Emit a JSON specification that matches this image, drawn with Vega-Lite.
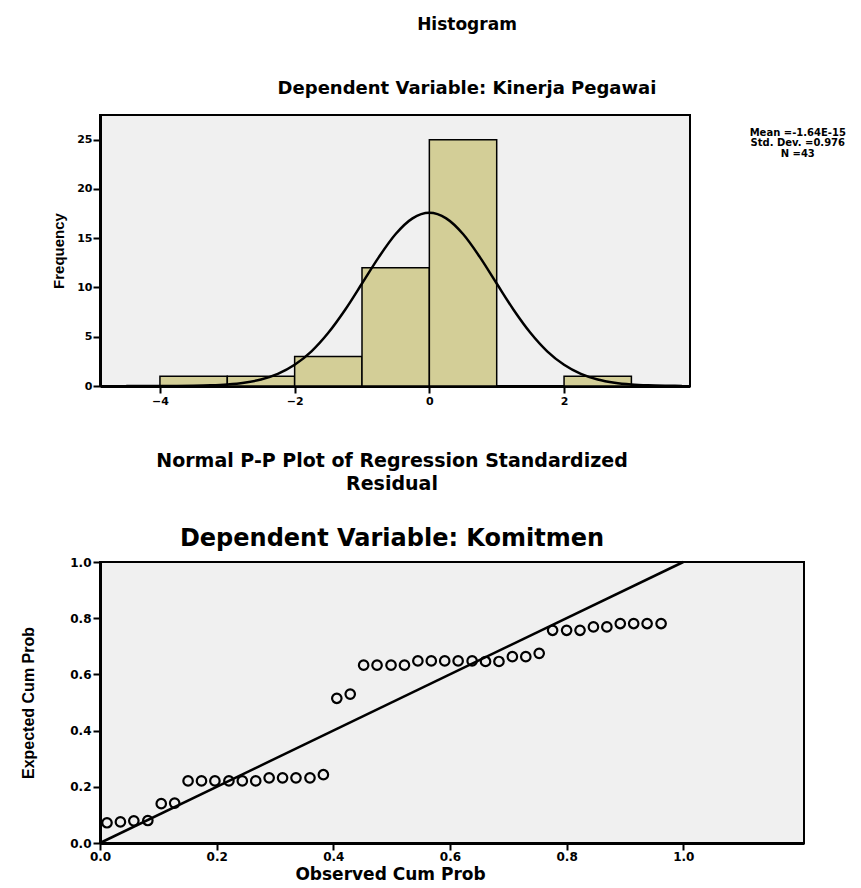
{
  "$schema": "https://vega.github.io/schema/vega-lite/v6.json",
  "background": "white",
  "padding": {"left": 19, "top": 15, "right": 0, "bottom": 0},
  "spacing": 44,
  "datasets": {
    "bins": [
      {"bin_start": -4, "bin_end": -3, "count": 1},
      {"bin_start": -3, "bin_end": -2, "count": 1},
      {"bin_start": -2, "bin_end": -1, "count": 3},
      {"bin_start": -1, "bin_end": 0, "count": 12},
      {"bin_start": 0, "bin_end": 1, "count": 25},
      {"bin_start": 2, "bin_end": 3, "count": 1}
    ],
    "curve": [
      {"x": -4.5, "density": 0.0004},
      {"x": -4.25, "density": 0.0013},
      {"x": -4.0, "density": 0.004},
      {"x": -3.75, "density": 0.011},
      {"x": -3.5, "density": 0.028},
      {"x": -3.25, "density": 0.069},
      {"x": -3.0, "density": 0.156},
      {"x": -2.75, "density": 0.332},
      {"x": -2.5, "density": 0.661},
      {"x": -2.25, "density": 1.233},
      {"x": -2.0, "density": 2.154},
      {"x": -1.75, "density": 3.52},
      {"x": -1.5, "density": 5.40},
      {"x": -1.25, "density": 7.74},
      {"x": -1.0, "density": 10.40},
      {"x": -0.75, "density": 13.08},
      {"x": -0.5, "density": 15.42},
      {"x": -0.25, "density": 17.01},
      {"x": 0.0, "density": 17.58},
      {"x": 0.25, "density": 17.01},
      {"x": 0.5, "density": 15.42},
      {"x": 0.75, "density": 13.08},
      {"x": 1.0, "density": 10.40},
      {"x": 1.25, "density": 7.74},
      {"x": 1.5, "density": 5.40},
      {"x": 1.75, "density": 3.52},
      {"x": 2.0, "density": 2.154},
      {"x": 2.25, "density": 1.233},
      {"x": 2.5, "density": 0.661},
      {"x": 2.75, "density": 0.332},
      {"x": 3.0, "density": 0.156},
      {"x": 3.25, "density": 0.069},
      {"x": 3.5, "density": 0.028},
      {"x": 3.75, "density": 0.011}
    ],
    "stats": [
      {"lines": ["Mean =-1.64E-15", "Std. Dev. =0.976", "N =43"]}
    ],
    "diag": [
      {"x": 0, "y": 0},
      {"x": 1, "y": 1}
    ],
    "pp": [
      {"observed": 0.012, "expected": 0.072},
      {"observed": 0.035, "expected": 0.075},
      {"observed": 0.058, "expected": 0.079},
      {"observed": 0.082, "expected": 0.080},
      {"observed": 0.105, "expected": 0.140},
      {"observed": 0.128, "expected": 0.142},
      {"observed": 0.151, "expected": 0.221},
      {"observed": 0.174, "expected": 0.221},
      {"observed": 0.197, "expected": 0.221},
      {"observed": 0.221, "expected": 0.221},
      {"observed": 0.244, "expected": 0.221},
      {"observed": 0.267, "expected": 0.221},
      {"observed": 0.290, "expected": 0.232},
      {"observed": 0.313, "expected": 0.232},
      {"observed": 0.336, "expected": 0.232},
      {"observed": 0.360, "expected": 0.232},
      {"observed": 0.383, "expected": 0.243},
      {"observed": 0.406, "expected": 0.515},
      {"observed": 0.429, "expected": 0.530},
      {"observed": 0.452, "expected": 0.633},
      {"observed": 0.475, "expected": 0.633},
      {"observed": 0.499, "expected": 0.633},
      {"observed": 0.522, "expected": 0.633},
      {"observed": 0.545, "expected": 0.648},
      {"observed": 0.568, "expected": 0.648},
      {"observed": 0.591, "expected": 0.648},
      {"observed": 0.614, "expected": 0.648},
      {"observed": 0.638, "expected": 0.648},
      {"observed": 0.661, "expected": 0.646},
      {"observed": 0.684, "expected": 0.646},
      {"observed": 0.707, "expected": 0.663},
      {"observed": 0.730, "expected": 0.663},
      {"observed": 0.753, "expected": 0.675},
      {"observed": 0.776, "expected": 0.757},
      {"observed": 0.800, "expected": 0.757},
      {"observed": 0.823, "expected": 0.757},
      {"observed": 0.846, "expected": 0.769},
      {"observed": 0.869, "expected": 0.769},
      {"observed": 0.892, "expected": 0.781},
      {"observed": 0.915, "expected": 0.781},
      {"observed": 0.938, "expected": 0.781},
      {"observed": 0.962, "expected": 0.781}
    ]
  },
  "config": {
    "view": {"fill": "#f0f0f0", "stroke": "black", "strokeWidth": 2},
    "axis": {
      "grid": false,
      "domainColor": "black",
      "domainWidth": 3,
      "tickColor": "black",
      "tickWidth": 2,
      "tickSize": 7,
      "labelFlush": false,
      "labelFont": "DejaVu Sans",
      "labelFontWeight": "bold",
      "labelColor": "black",
      "titleColor": "black",
      "titleFontWeight": "bold"
    },
    "title": {
      "color": "black",
      "subtitleColor": "black",
      "font": "DejaVu Sans",
      "subtitleFont": "DejaVu Sans",
      "fontWeight": "bold",
      "subtitleFontWeight": "bold"
    }
  },
  "vconcat": [
    {
      "width": 590,
      "height": 271,
      "title": {
        "text": "Histogram",
        "subtitle": "Dependent Variable: Kinerja Pegawai",
        "fontSize": 17,
        "subtitleFontSize": 18,
        "subtitlePadding": 46,
        "offset": 16,
        "dx": 72
      },
      "layer": [
        {
          "data": {"name": "bins"},
          "mark": {"type": "bar", "fill": "#d3ce97", "stroke": "black", "strokeWidth": 1.5},
          "encoding": {
            "x": {
              "field": "bin_start",
              "type": "quantitative",
              "scale": {"domain": [-4.89, 3.87], "nice": false, "zero": false},
              "axis": {"values": [-4, -2, 0, 2], "format": "d", "title": null, "labelFontSize": 11, "labelPadding": 2}
            },
            "x2": {"field": "bin_end"},
            "y": {
              "field": "count",
              "type": "quantitative",
              "scale": {"domain": [0, 27.5], "nice": false},
              "axis": {
                "values": [0, 5, 10, 15, 20, 25],
                "title": "Frequency",
                "titleFont": "Liberation Sans",
                "titleFontSize": 15,
                "titlePadding": 10,
                "labelFontSize": 11,
                "labelPadding": 1
              }
            },
            "y2": {"datum": 0}
          }
        },
        {
          "data": {"name": "curve"},
          "mark": {"type": "line", "color": "black", "strokeWidth": 2.5, "interpolate": "monotone", "clip": true},
          "encoding": {
            "x": {"field": "x", "type": "quantitative"},
            "y": {"field": "density", "type": "quantitative"}
          }
        },
        {
          "data": {"name": "stats"},
          "mark": {"type": "text", "font": "DejaVu Sans", "fontWeight": "bold", "fontSize": 10, "lineHeight": 10.5, "align": "center", "baseline": "top", "color": "black"},
          "encoding": {
            "x": {"datum": 5.47},
            "y": {"datum": 26.2},
            "text": {"field": "lines"}
          }
        }
      ]
    },
    {
      "width": 704,
      "height": 281,
      "title": {
        "text": ["Normal P-P Plot of Regression Standardized", "Residual"],
        "subtitle": "Dependent Variable: Komitmen",
        "fontSize": 19,
        "lineHeight": 23,
        "subtitleFontSize": 24,
        "subtitlePadding": 33,
        "offset": 5,
        "dx": -60
      },
      "layer": [
        {
          "data": {"name": "diag"},
          "mark": {"type": "line", "color": "black", "strokeWidth": 2.5},
          "encoding": {
            "x": {
              "field": "x",
              "type": "quantitative",
              "scale": {"domain": [0, 1.207], "nice": false},
              "axis": {
                "values": [0, 0.2, 0.4, 0.6, 0.8, 1.0],
                "format": ".1f",
                "title": "Observed Cum Prob",
                "titleX": 290,
                "titleFont": "DejaVu Sans",
                "titleFontSize": 17,
                "titlePadding": 4,
                "labelFontSize": 12,
                "labelPadding": 1
              }
            },
            "y": {
              "field": "y",
              "type": "quantitative",
              "scale": {"domain": [0, 1], "nice": false},
              "axis": {
                "values": [0, 0.2, 0.4, 0.6, 0.8, 1.0],
                "format": ".1f",
                "title": "Expected Cum Prob",
                "titleFont": "Liberation Sans",
                "titleFontSize": 16,
                "titlePadding": 33,
                "labelFontSize": 12,
                "labelPadding": 2
              }
            }
          }
        },
        {
          "data": {"name": "pp"},
          "mark": {"type": "point", "shape": "circle", "filled": false, "stroke": "black", "strokeWidth": 2.2, "size": 90, "opacity": 1},
          "encoding": {
            "x": {"field": "observed", "type": "quantitative"},
            "y": {"field": "expected", "type": "quantitative"}
          }
        }
      ]
    }
  ]
}
